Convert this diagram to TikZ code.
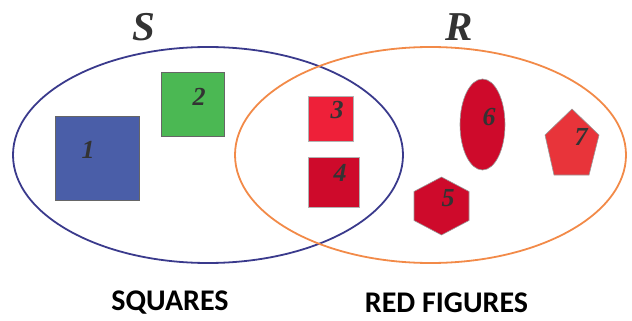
\documentclass[tikz,border=0pt]{standalone}
\usepackage{fontspec}
\setmainfont{Liberation Serif}
\newfontfamily\capsfont{Carlito}
\definecolor{setblue}{HTML}{3A3A8C}
\definecolor{setorange}{HTML}{F28A48}
\definecolor{sqblue}{HTML}{4A5EA8}
\definecolor{sqgreen}{HTML}{4BB853}
\definecolor{redlight}{HTML}{EE2039}
\definecolor{reddark}{HTML}{CE0A2B}
\definecolor{redpent}{HTML}{E8343A}
\definecolor{labelgray}{HTML}{333333}
\begin{document}
\begin{tikzpicture}[x=1pt,y=-1pt,
  setline/.style={line width=1.8pt},
  figure/.style={draw=black!60,line width=0.6pt},
  numlabel/.style={font=\fontsize{26}{26}\selectfont\bfseries\itshape,text=labelgray,inner sep=0pt},
  setname/.style={font=\fontsize{41}{41}\selectfont\bfseries\itshape,text=labelgray,inner sep=0pt},
  caption/.style={font=\capsfont\fontsize{30}{30}\selectfont\bfseries,text=black,inner sep=0pt}]
\useasboundingbox (0,0) rectangle (632,321);
% the two sets
\draw[setline,setblue] (208,155) ellipse [x radius=195,y radius=108];
\draw[setline,setorange] (430.5,155) ellipse [x radius=195.5,y radius=108];
% squares
\filldraw[figure,fill=sqblue] (55,116) rectangle (139,200);
\filldraw[figure,fill=sqgreen] (161,72) rectangle (224,136);
\filldraw[figure,draw=black!30,fill=redlight] (308,96) rectangle (353,141);
\filldraw[figure,draw=black!30,fill=reddark] (308,157) rectangle (359,207);
% other red figures
\filldraw[figure,draw=black!40,fill=reddark] (482.5,124.5) ellipse [x radius=22.5,y radius=45.5];
\filldraw[figure,draw=black!40,fill=reddark] (441.5,177) -- (469,191.5) -- (469,220.5) -- (441.5,235) -- (414,220.5) -- (414,191.5) -- cycle;
\filldraw[figure,draw=black!40,fill=redpent] (572,109) -- (599,135) -- (589,175) -- (554,175) -- (545,135) -- cycle;
% labels
\node[numlabel] (n1) at (88,150) {1};
\node[numlabel] (n2) at (199,97) {2};
\node[numlabel] (n3) at (337,110) {3};
\node[numlabel] (n4) at (340,173) {4};
\node[numlabel] (n5) at (448,198) {5};
\node[numlabel] (n6) at (489,117) {6};
\node[numlabel] (n7) at (581,137) {7};
\node[setname] (S) at (144,27) {S};
\node[setname] (R) at (459,27) {R};
\node[caption] (sq) at (170,303) {SQUARES};
\node[caption] (rf) at (446.5,303) {RED FIGURES};
\end{tikzpicture}
\end{document}
